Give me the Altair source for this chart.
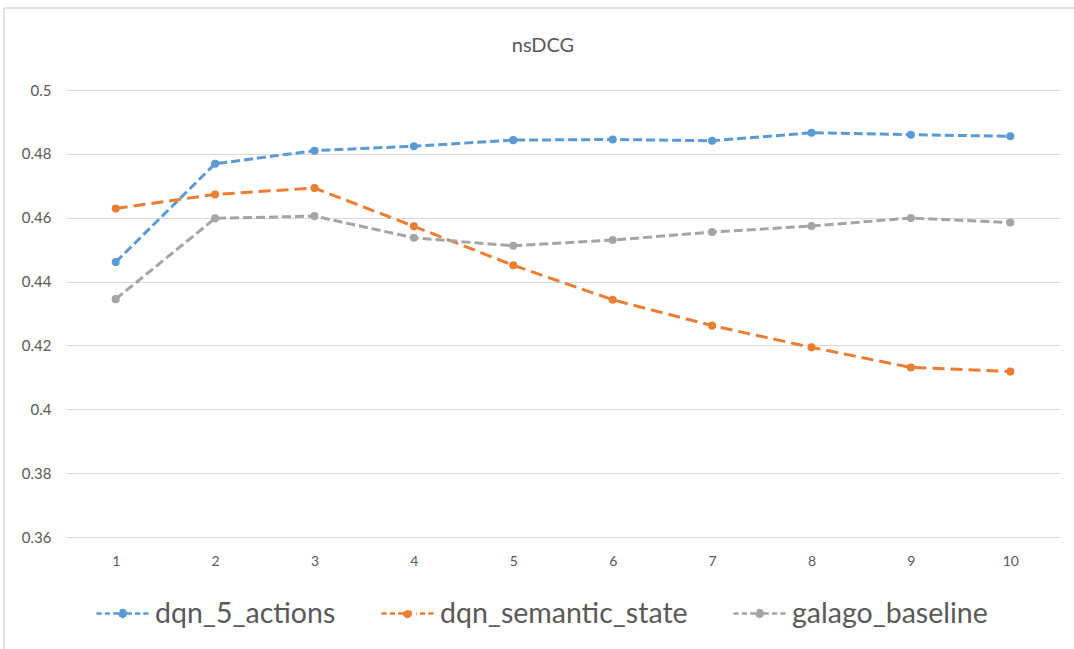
import altair as alt
import pandas as pd

# ---- data ----
steps = [1, 2, 3, 4, 5, 6, 7, 8, 9, 10]
dqn_5_actions = [0.4461, 0.4769, 0.4810, 0.4824, 0.4843, 0.4845, 0.4841, 0.4866, 0.4860, 0.4855]
dqn_semantic_state = [0.4629, 0.4673, 0.4693, 0.4573, 0.4451, 0.4343, 0.4262, 0.4194, 0.4131, 0.4118]
galago_baseline = [0.4345, 0.4598, 0.4605, 0.4537, 0.4512, 0.4530, 0.4555, 0.4574, 0.4599, 0.4585]
series_names = ["dqn_5_actions", "dqn_semantic_state", "galago_baseline"]
series_colors = ["#5B9BD5", "#ED7D31", "#A5A5A5"]
series_dashes = [[9, 4], [12, 6], [9, 4]]
y_ticks = [0.36, 0.38, 0.40, 0.42, 0.44, 0.46, 0.48, 0.50]
chart_title = "nsDCG"

rows = []
for name, vals in zip(series_names, [dqn_5_actions, dqn_semantic_state, galago_baseline]):
    for s, v in zip(steps, vals):
        rows.append({"step": s, "value": v, "series": name})
df = pd.DataFrame(rows)

FONT = "Lato, Liberation Sans, sans-serif"
TXT = "#595959"
GRID = "#D9D9D9"

# legend symbol: dashed line with a dot in the middle (dot drawn as concentric strokes)
legend_path = (
    "M-1,0H-0.8M-0.68,0H-0.48M-0.36,0H0.36M0.48,0H0.68M0.8,0H1"
    "M0.13,0A0.13,0.13 0 1,1 -0.13,0A0.13,0.13 0 1,1 0.13,0"
    "M0.06,0A0.06,0.06 0 1,1 -0.06,0A0.06,0.06 0 1,1 0.06,0"
)

x_enc = alt.X(
    "step:O",
    scale=alt.Scale(type="point", padding=0.5),
    axis=alt.Axis(
        title=None, labelAngle=0, ticks=False, domain=False, grid=False,
        labelPadding=17, labelFontSize=14, labelColor=TXT, labelFont=FONT,
    ),
)
y_enc = alt.Y(
    "value:Q",
    scale=alt.Scale(domain=[0.36, 0.5], nice=False, zero=False),
    axis=alt.Axis(
        title=None, values=y_ticks, format=".2~f", ticks=False, domain=False,
        grid=True, gridColor=GRID, gridWidth=1.2,
        labelPadding=15, labelFontSize=15, labelColor=TXT, labelFont=FONT,
    ),
)
color_enc = alt.Color(
    "series:N",
    scale=alt.Scale(domain=series_names, range=series_colors),
    legend=alt.Legend(
        orient="none", legendX=29, legendY=496, direction="horizontal",
        title=None, symbolType=legend_path, symbolSize=2704,
        symbolStrokeWidth=2.5, labelFontSize=28.5, labelColor=TXT,
        labelFont=FONT, labelOffset=5, columnPadding=40, padding=0,
        labelLimit=400,
    ),
)

lines = alt.Chart(df).mark_line(strokeWidth=3).encode(
    x=x_enc, y=y_enc, color=color_enc,
    strokeDash=alt.StrokeDash(
        "series:N",
        scale=alt.Scale(domain=series_names, range=series_dashes),
        legend=None,
    ),
)
points = alt.Chart(df).mark_circle(size=65, opacity=1).encode(
    x=x_enc, y=y_enc, color=color_enc,
)

frame_df = pd.DataFrame({"label": [chart_title]})
left_border = alt.Chart(frame_df).mark_rule(color=GRID, strokeWidth=1.5).encode(
    x=alt.value(-62), y=alt.value(-82), y2=alt.value(600)
)
top_border = alt.Chart(frame_df).mark_rule(color=GRID, strokeWidth=1.5).encode(
    x=alt.value(-62), x2=alt.value(1020), y=alt.value(-82)
)
title_text = alt.Chart(frame_df).mark_text(
    fontSize=20, color=TXT, font=FONT, align="center", baseline="middle"
).encode(x=alt.value(477), y=alt.value(-44), text="label:N")

chart = (
    alt.layer(left_border, top_border, title_text, lines, points)
    .properties(
        width=994,
        height=447,
        autosize=alt.AutoSizeParams(type="none"),
        padding={"left": 66, "top": 90, "right": 14, "bottom": 112},
        background="white",
    )
    .configure_view(stroke=None)
)

chart.save("out.html", embed_options={"renderer": "svg", "actions": False})
